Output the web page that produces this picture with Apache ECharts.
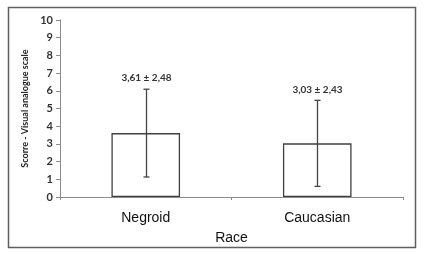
<!DOCTYPE html>
<html>
<head>
<meta charset="utf-8">
<script src="https://cdn.jsdelivr.net/npm/echarts@6/dist/echarts.min.js"></script>
<style>
  html, body { margin: 0; padding: 0; background: #fff; }
  #chart-container { width: 425px; height: 256px; }
</style>
</head>
<body>
<div id="chart-container"></div>
<script>
// Dati
const categories = ['Negroid', 'Caucasian'];
const means = [3.61, 3.03];
const sds = [2.48, 2.43];
const yTicks = [0, 10, 1]; // min, max, intervallo

const fmt = v => v.toFixed(2).replace('.', ',');
const errData = categories.map((c, i) => [i, means[i] - sds[i], means[i] + sds[i], fmt(means[i]) + ' \u00b1 ' + fmt(sds[i])]);

const myChart = echarts.init(document.getElementById('chart-container'));
const option = {
	animation: false,
	grid: { left: 60, right: 22, top: 20, bottom: 59 },
	graphic: [{
		type: 'rect',
		shape: { x: 8.5, y: 7.5, width: 407, height: 240 },
		style: { fill: 'none', stroke: '#5f5f5f', lineWidth: 1.5 },
		silent: true
	}],
	xAxis: {
		type: 'category',
		data: categories,
		name: 'Race',
		nameLocation: 'center',
		nameGap: 34,
		nameTextStyle: { fontFamily: 'Liberation Sans', fontSize: 14, color: '#111' },
		axisLine: { lineStyle: { color: '#8c8c8c', width: 1 } },
		axisTick: { show: true, length: 3, lineStyle: { color: '#8c8c8c' } },
		axisLabel: { fontFamily: 'Liberation Sans', fontSize: 14, color: '#111', margin: 14 }
	},
	yAxis: {
		type: 'value',
		min: yTicks[0],
		max: yTicks[1],
		interval: yTicks[2],
		name: 'Scorre - Visual analogue scale',
		nameLocation: 'center',
		nameGap: 22,
		nameTextStyle: { fontFamily: 'Lato', fontWeight: 'bold', fontSize: 9, color: '#222' },
		axisLine: { show: true, lineStyle: { color: '#8c8c8c', width: 1 } },
		axisTick: { show: true, length: 4, lineStyle: { color: '#8c8c8c' } },
		axisLabel: { fontFamily: 'Lato', fontWeight: 'bold', fontSize: 11, color: '#333', margin: 7 },
		splitLine: { show: false }
	},
	series: [{
		type: 'bar',
		data: means,
		barWidth: '40%',
		itemStyle: { color: '#fff', borderColor: '#404040', borderWidth: 1.3 }
	}, {
		type: 'custom',
		data: errData,
		z: 10,
		renderItem: (params, api) => {
			const lo = api.coord([api.value(0), api.value(1)]);
			const hi = api.coord([api.value(0), api.value(2)]);
			const x = Math.round(lo[0]) + 0.5;
			const cap = 3;
			const st = { stroke: '#444', lineWidth: 1.3 };
			return {
				type: 'group',
				children: [
					{ type: 'line', shape: { x1: x, y1: hi[1], x2: x, y2: lo[1] }, style: st },
					{ type: 'line', shape: { x1: x - cap, y1: hi[1], x2: x + cap, y2: hi[1] }, style: st },
					{ type: 'line', shape: { x1: x - cap, y1: lo[1], x2: x + cap, y2: lo[1] }, style: st },
					{ type: 'text', style: {
						x: x, y: hi[1] - 11, text: api.value(3),
						align: 'center', verticalAlign: 'middle',
						font: 'bold 10px Lato', fill: '#333'
					} }
				]
			};
		}
	}]
};
myChart.setOption(option);
</script>
</body>
</html>
